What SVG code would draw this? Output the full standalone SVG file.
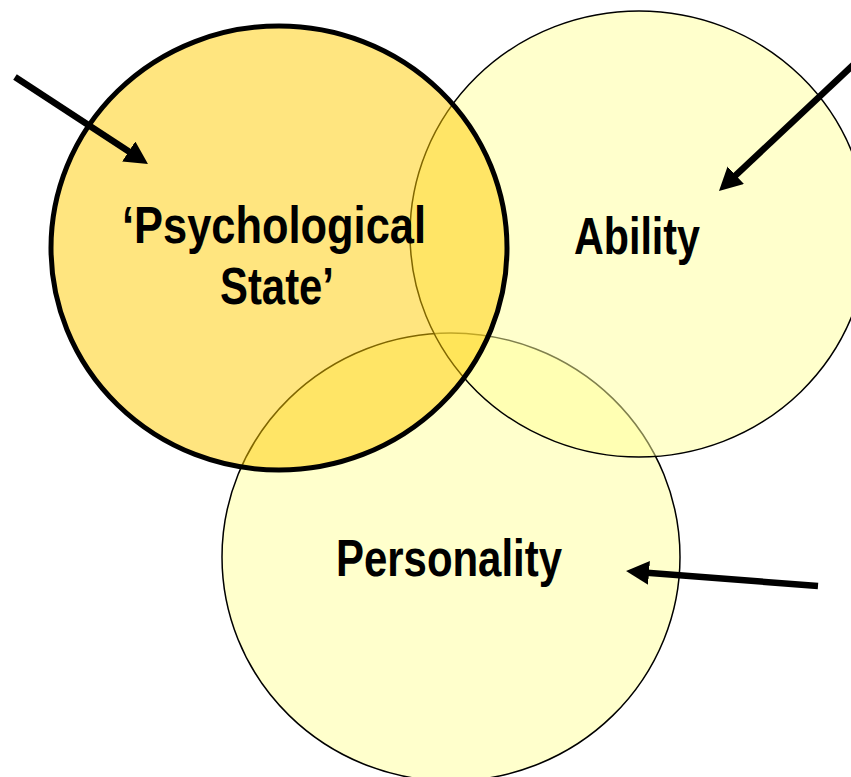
<svg xmlns="http://www.w3.org/2000/svg" width="851" height="777" viewBox="0 0 851 777">
  <style>
    .label { font-family: "Liberation Sans", Arial, sans-serif; font-weight: bold; font-size: 52px; fill: #000; text-anchor: middle; }
    .soft { fill: #FFFF99; fill-opacity: 0.5; stroke: #000; stroke-width: 1.5; }
    .focus { fill: #FFCC00; fill-opacity: 0.5; stroke: #000; stroke-width: 5; }
    .arrow { stroke: #000; stroke-width: 6.5; fill: none; marker-end: url(#head); }
  </style>
  <defs>
    <marker id="head" viewBox="0 0 23 24" markerWidth="23" markerHeight="24" refX="2" refY="12" markerUnits="userSpaceOnUse" orient="auto">
      <path d="M0,0 L23,12 L0,24 z" fill="#000"/>
    </marker>
  </defs>
  <rect width="851" height="777" fill="#fff"/>

  <g id="personality">
    <ellipse class="soft" cx="451" cy="557" rx="229" ry="224"/>
    <text class="label" x="449" y="576" textLength="226" lengthAdjust="spacingAndGlyphs">Personality</text>
  </g>

  <g id="ability">
    <ellipse class="soft" cx="639" cy="234" rx="229" ry="223"/>
    <text class="label" x="637" y="254" textLength="126" lengthAdjust="spacingAndGlyphs">Ability</text>
  </g>

  <g id="psychological-state">
    <ellipse class="focus" cx="279" cy="248" rx="228" ry="222"/>
    <text class="label" x="274" y="243" textLength="304" lengthAdjust="spacingAndGlyphs">‘Psychological</text>
    <text class="label" x="277" y="304" textLength="114" lengthAdjust="spacingAndGlyphs">State’</text>
  </g>

  <g id="connectors">
    <line class="arrow" x1="15" y1="77" x2="130.4" y2="152.5"/>
    <line class="arrow" x1="858.3" y1="60.2" x2="734.3" y2="176.6"/>
    <line class="arrow" x1="818" y1="586" x2="647" y2="572.7"/>
  </g>
</svg>
